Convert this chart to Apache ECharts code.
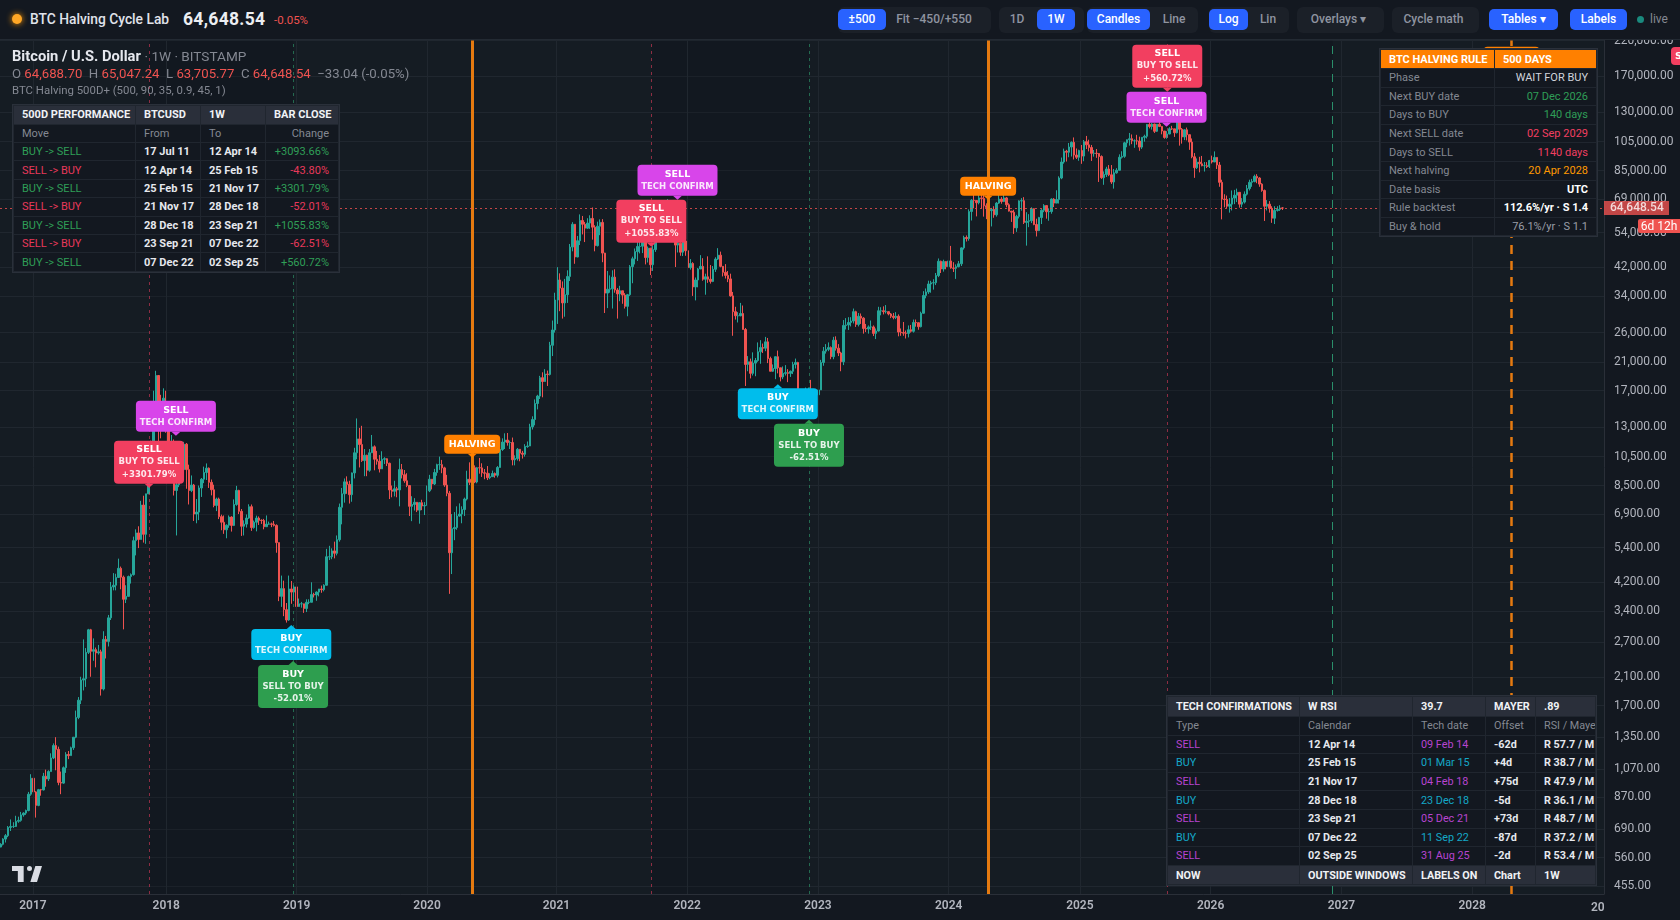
<!DOCTYPE html>
<html><head><meta charset="utf-8">
<script src="https://cdn.jsdelivr.net/npm/echarts@6/dist/echarts.min.js"></script>
<style>
html,body{margin:0;padding:0;background:#131820;overflow:hidden;width:1680px;height:920px;font-family:Roboto,"Open Sans",sans-serif}
#chart{position:absolute;left:0;top:0;width:1680px;height:920px}
.abs{position:absolute;white-space:nowrap}
#top{position:absolute;left:0;top:0;width:1680px;height:40px;background:#131820;border-bottom:1px solid #232a33;box-sizing:border-box}
.grp{position:absolute;top:7px;height:26px;background:#1b2028;border-radius:6px}
.btn{position:absolute;top:9px;height:21px;line-height:21px;text-align:center;font-size:12px;color:#8f94a0;font-weight:500}
.on{background:#2962ff;color:#fff;border-radius:5px}
table.t{position:absolute;border-collapse:collapse;table-layout:fixed;background:#131820;font-size:11px;color:#e6e8ee;font-weight:700;outline:1px solid #2a303a}
table.t td{padding:0 8px;overflow:hidden;white-space:nowrap;border:1px solid #20262f;box-sizing:border-box}
table.t tr.h td{background:#2a2f3a;color:#f0f2f5;font-weight:700}
.g{color:#848892;font-weight:400}.r{text-align:right}
</style></head><body>
<div id="chart"></div>
<div id="overlay"></div>
<script>
// ---- Weekly candles per calendar year: [close, high, low]
const weeks2016=[[617,622,606],[641,645,612],[657,665,625],[698,705,650],[703,740,680],[703,725,695],[730,760,700],[735,755,722],[765,782,728],[775,780,755],[790,795,765],[890,905,785],[1000,1030,880]];
const weeks2017=[[905,1150,810],[820,910,750],[920,925,815],[918,925,880],[1015,1040,915],[995,1065,940],[1050,1060,980],[1160,1200,1050],[1270,1290,1150],[1235,1350,1060],[970,1260,950],[965,1050,890],[1080,1090,960],[1190,1210,1040],[1180,1220,1150],[1250,1260,1180],[1350,1350,1230],[1560,1640,1340],[1770,1810,1540],[2050,2100,1720],[2070,2760,1900],[2510,2590,1950],[2960,2980,2480],[2530,2980,2100],[2560,2780,2360],[2500,2600,2250],[2520,2650,2470],[1920,2560,1830],[2760,2930,1900],[2720,2830,2400],[3230,3300,2620],[4050,4200,3180],[4100,4480,3950],[4340,4460,3950],[4640,4980,4330],[4350,4700,3980],[3700,4400,2970],[3780,4100,3600],[4370,4400,3780],[4430,4470,4150],[5680,5850,4400],[6010,6170,5100],[5730,6310,5380],[7370,7600,6000],[5950,7890,5600],[8000,8000,5550],[9300,9700,8000],[11200,11800,9000],[15000,17000,11000],[19000,19666,14900],[14000,19000,10800],[13800,16500,12000]];
const weeks2018=[[16100,17300,12700],[13600,17000,12500],[11500,14100,9000],[11700,12300,10100],[8200,11900,7900],[8550,9000,5900],[10300,11300,8400],[9550,11700,9300],[11500,11700,9400],[9550,11600,8300],[8200,9900,7400],[8530,9150,8100],[6900,8600,6560],[7000,7700,6450],[8350,8500,6600],[8900,8980,7820],[9350,9760,8650],[9650,9990,8850],[8700,9700,8350],[8240,8880,7910],[7350,8550,7250],[7700,7780,7050],[6770,7780,6650],[6500,6870,6130],[6150,6830,5970],[6360,6400,5780],[6750,6830,6240],[6350,6790,6070],[7400,7680,6320],[8200,8480,7330],[7040,8240,6900],[6310,7160,5880],[6410,6590,5900],[6700,6880,6250],[7280,7410,6660],[6250,7400,6100],[6500,6580,6200],[6700,6820,6080],[6590,6780,6370],[6580,6640,6420],[6290,6660,6170],[6410,6830,6300],[6420,6530,6380],[6400,6480,6270],[6350,6560,6300],[5600,6400,5200],[3780,5600,3650],[4000,4400,3500],[3430,4240,3270],[3180,3600,3120],[3990,4400,3160],[3900,4230,3580],[4050,4100,3650]];
const weeks2019=[[3510,4080,3470],[3580,3720,3500],[3580,3630,3480],[3460,3540,3350],[3620,3700,3370],[3620,3700,3570],[3830,4190,3680],[3820,3880,3750],[3900,3920,3660],[3990,3990,3780],[3970,4090,3880],[4100,4130,3920],[5050,5350,4090],[5050,5470,4930],[5270,5370,4960],[5180,5640,4990],[5720,5900,5100],[7250,7450,5640],[8000,8350,6400],[8730,8950,7500],[8570,9090,8000],[7950,8800,7450],[9320,9350,7550],[10800,11200,8950],[11950,13880,10300],[11470,12950,9700],[10200,13150,10100],[10600,11100,9100],[9500,10650,9100],[10800,11100,9400],[11280,12300,10900],[10300,11400,9500],[10150,10950,9900],[9600,10620,9350],[10300,10920,9800],[10340,10450,9950],[10000,10380,9800],[8230,10050,7700],[8150,8500,7800],[8300,8800,7850],[8230,8420,7800],[9550,10350,7300],[9200,9950,8950],[8800,9520,8670],[8500,9300,8400],[7300,8500,6800],[7400,7860,6550],[7520,7750,7080],[7100,7500,7000],[7500,7520,6430],[7320,7660,7100],[7350,7530,6850]];
const weeks2020=[[8180,8500,7720],[8900,9190,8100],[8600,8800,8260],[9350,9600,8530],[9900,9970,9130],[9900,10500,9530],[9670,10250,9300],[8530,9750,8420],[8030,9190,7860],[5200,8170,3850],[6200,6900,4450],[6250,7000,5700],[6800,7300,6150],[6900,7460,6770],[7130,7300,6450],[7700,7780,6800],[8900,9470,7620],[8700,10070,8530],[9680,9950,8200],[8720,9850,8650],[9680,9740,8640],[9670,10400,9270],[9330,10000,9050],[9300,9590,8900],[9000,9800,8850],[9070,9300,8900],[9280,9480,9050],[9160,9350,9000],[9700,9800,9020],[11060,12100,9900],[11680,12000,10950],[11850,12450,11100],[11640,12480,11380],[11640,11800,11100],[10260,12070,9850],[10350,10600,9850],[11080,11180,10200],[10770,11000,10150],[10680,10950,10350],[11300,11500,10500],[11350,11730,11200],[13050,13350,11400],[13770,14100,12800],[15480,15950,13200],[16350,16500,14830],[18700,18950,16000],[18180,19450,16200],[19200,19900,18200],[19150,19700,17600],[23700,24300,19000],[26500,28400,21900],[33000,34800,26000]];
const weeks2021=[[38200,41950,27700],[36000,40100,30400],[32300,37800,28800],[34300,38500,29200],[39200,41000,32300],[48600,49700,37900],[57400,58300,47100],[45200,57500,43000],[50900,52700,45100],[59000,61700,49300],[57400,61000,53300],[55800,58400,50400],[57900,60000,55500],[59900,61300,55500],[56200,64900,51300],[49100,57000,47100],[56600,58500,48800],[58200,59500,53000],[46500,59600,43500],[34700,46600,30000],[35700,40800,31100],[35800,39500,34800],[39000,41000,31000],[35500,41300,34800],[34500,36000,28800],[35300,36600,32700],[34200,35100,32100],[31500,34700,31000],[34300,34500,29300],[42100,42600,34000],[44600,45300,37300],[47000,48100,42800],[48800,50500,43900],[48900,50500,46400],[51800,52900,46500],[45000,52900,42800],[48200,48800,43400],[42700,47500,39600],[47700,49200,40800],[55000,56000,46900],[61500,62900,54100],[60900,67000,59800],[61300,63700,57700],[63300,64200,59500],[65500,69000,62300],[58600,66300,55700],[54800,59500,53500],[49300,59200,42000],[50000,51900,46700],[46800,50300,45600],[50800,51900,45500],[47300,52000,45600]];
const weeks2022=[[41800,47500,40500],[43100,44500,41200],[36300,43500,34000],[38200,38900,32900],[41400,41700,36200],[42200,45800,41700],[38400,44800,38000],[39100,40000,34300],[38400,45400,37400],[37800,42600,37200],[41300,42300,37600],[44500,45100,40500],[45800,48200,44200],[42200,47000,41900],[40400,41600,39200],[39500,42900,38600],[38500,40800,37600],[34000,40000,33800],[30300,35000,25400],[29400,31400,28600],[29400,30200,28000],[29900,32300,29300],[26600,31700,26600],[20600,26900,17600],[21000,21900,19600],[19300,21500,18600],[20800,22500,19000],[21200,21600,18900],[22600,24200,21000],[23300,24600,20700],[23200,24000,22400],[24300,25200,22700],[21500,25000,20800],[19600,21800,19600],[20000,20600,19500],[21800,21800,18500],[20100,22800,19300],[18800,19700,18200],[19300,20300,18500],[19400,20500,19000],[19300,19900,18100],[19600,19700,18800],[20600,21000,19200],[20900,21500,20000],[16300,21000,15700],[16300,17200,15500],[16400,16800,15500],[17100,17400,16000],[17100,17400,16700],[16800,18400,16500],[16800,17000,16400],[16500,16800,16300]];
const weeks2023=[[17100,17400,16500],[20900,21300,17200],[22700,23400,20400],[23000,23900,22300],[23300,24200,22700],[21800,23500,21400],[24600,25200,21400],[23200,25300,22800],[22400,23900,21900],[21000,22600,19600],[27400,28500,20500],[27500,28900,26600],[28000,29100,26500],[28300,29100,27200],[30300,31000,27800],[27600,30500,27100],[29300,30000,27200],[28900,29900,27700],[26800,29100,25800],[26700,27700,26100],[27100,27400,25800],[27100,28400,26500],[25850,27400,25350],[26300,26800,24800],[30500,31400,26200],[30500,31300,29500],[30300,31500,29700],[30300,31800,29900],[29800,30400,29500],[29300,30000,28900],[29050,30000,28650],[29300,30200,28700],[26100,29700,25300],[26000,26800,25400],[25900,28100,25400],[25850,26400,24900],[26550,27400,25100],[26250,27500,26000],[28000,28600,26000],[27950,28600,27150],[27150,28000,26550],[29950,30300,27000],[34100,35200,29900],[35000,35900,33400],[37100,38000,34500],[37400,37970,34800],[37450,38400,35600],[39450,40200,36800],[43800,44700,39000],[41400,44000,40200],[43700,44300,40600],[42100,43800,41300]];
const weeks2024=[[43900,45900,40700],[41700,49000,41500],[41600,43500,40500],[42100,42800,38500],[43000,43900,41900],[48300,48500,42300],[52100,52800,47700],[51700,52900,50600],[63000,64000,50900],[68400,69000,59000],[68300,73700,64500],[67200,68100,60800],[69600,71700,66400],[69300,71300,64500],[65700,72800,60700],[64900,66900,59600],[63400,67200,62400],[64000,64700,56500],[61500,65500,60200],[67000,67500,60700],[69000,71900,66600],[67800,70000,66700],[69600,72000,67500],[66200,70100,65000],[63200,66900,63000],[62700,62800,58400],[55900,63800,53500],[60800,61500,54300],[68100,68400,59900],[68200,69500,63400],[58200,70000,57500],[58700,62700,49100],[58900,61800,56200],[64300,65000,57900],[57300,64500,57000],[54800,59800,52500],[60300,60600,54600],[63600,64100,57500],[65800,66500,62700],[62900,65500,59800],[63000,64500,58900],[69000,69400,62000],[67000,69500,65100],[68800,73600,67500],[80500,81500,66800],[90500,93500,79800],[97900,99800,89400],[97200,98900,90800],[101000,104000,93700],[104500,105200,94200],[95200,108300,92200],[93700,99900,92500],[98400,99000,91300]];
const weeks2025=[[94500,102500,89300],[105000,106300,91000],[102600,109500,99500],[100600,106500,97800],[96400,102500,91200],[96500,98800,94100],[96300,99500,93300],[94200,96500,78200],[80700,95000,80000],[82600,84500,76600],[86000,87400,81100],[82400,88500,81600],[78200,88500,77100],[83600,86000,74500],[85200,86500,83100],[93700,95700,85100],[94300,97900,92800],[104100,104900,93300],[106500,106700,100800],[107300,111900,102000],[105700,110700,103100],[105700,106800,100400],[105500,110400,102700],[100900,108900,98200],[108400,108500,99600],[109200,110500,105000],[119100,119500,107500],[117300,123100,115700],[119400,120200,114700],[113300,119800,111900],[119300,119300,112700],[117400,124500,116800],[113500,117600,110800],[108300,113500,107300],[111100,113400,107300],[115400,116700,110800],[115300,117900,114400],[112100,113300,108700],[123500,125700,111500],[115000,126200,102000],[108700,116000,103500],[114500,114900,106200],[110500,116400,106000],[104700,110700,98900],[94000,107500,93000],[86800,96600,80600],[90400,92900,86000],[89300,94000,83900],[88100,94600,87700],[88100,90500,84400],[87500,90400,86600],[91500,91900,86600]];
const weeks2026=[[90500,94800,89500],[93600,97800,91000],[88500,93200,86000],[78000,90500,75500],[69000,79500,59500],[68800,71500,65000],[65500,70800,64500],[66500,69500,62500],[69500,73500,63500],[71000,73800,66500],[72500,74500,67500],[66500,72500,64800],[67500,69500,65000],[71500,73000,66800],[74500,76500,70800],[78000,79500,73500],[78500,80000,75500],[81500,82500,78000],[80500,82800,77500],[77000,81000,75500],[73500,77500,72800],[65500,74000,58800],[66500,68500,63500],[64500,68000,62500],[60000,65500,58000],[63500,65500,57500],[64000,65500,63000],[64681.58,66000,63300],[64648.54,65047.24,63705.77]];
const yearBlocks=[['2016-10-03',weeks2016],['2017-01-02',weeks2017],['2018-01-01',weeks2018],['2019-01-07',weeks2019],['2020-01-06',weeks2020],['2021-01-04',weeks2021],['2022-01-03',weeks2022],['2023-01-02',weeks2023],['2024-01-01',weeks2024],['2025-01-06',weeks2025],['2026-01-05',weeks2026]];

const priceTicks=[220000,170000,130000,105000,85000,69000,54000,42000,34000,26000,21000,17000,13000,10500,8500,6900,5400,4200,3400,2700,2100,1700,1350,1070,870,690,560,455];
const yearTicks=['2017-01-01','2018-01-08','2019-01-07','2020-01-06','2021-01-01','2022-01-01','2023-01-01','2024-01-01','2025-01-01','2026-01-01','2027-01-01','2028-01-01'];
const yearNames=['2017','2018','2019','2020','2021','2022','2023','2024','2025','2026','2027','2028'];
const lastClose=64648.54;
const halvings=['2020-05-11','2024-04-20'];
const nextHalving='2028-04-20';
const sellDates=['2017-11-21','2021-09-23','2025-09-02'];
const buyDates=['2018-12-28','2022-12-07'];
const nextBuy='2026-12-07';
const darkWindows=[['2017-11-21','2018-12-28'],['2021-09-23','2022-12-07'],['2025-09-02','2026-12-07']];

const labelDates=['2017-11-21','2018-02-04','2018-12-23','2018-12-28','2020-05-11','2021-12-05','2021-09-23','2022-09-11','2022-12-07','2024-04-20','2025-09-02','2025-08-31','2028-04-20'];
const labelPrices=[8364,12228,3067,2358,10407,68650,48690,17822,13737,68650,151200,117080,177600];
const labelKinds=['sell','techS','techB','buy','halv','techS','sell','techB','buy','halv','sell','techS','halv'];
const labelTitles=['SELL','SELL','BUY','BUY','HALVING','SELL','SELL','BUY','BUY','HALVING','SELL','SELL','HALVING'];
const labelSubs=['BUY TO SELL','TECH CONFIRM','TECH CONFIRM','SELL TO BUY','','TECH CONFIRM','BUY TO SELL','TECH CONFIRM','SELL TO BUY','','BUY TO SELL','TECH CONFIRM',''];
const labelMoves=['+3301.79%','','','-52.01%','','','+1055.83%','','-62.51%','','+560.72%','',''];

const perfHead=['500D PERFORMANCE','BTCUSD','1W','BAR CLOSE'];
const perfCols=['Move','From','To','Change'];
const perfMoves=['BUY -> SELL','SELL -> BUY','BUY -> SELL','SELL -> BUY','BUY -> SELL','SELL -> BUY','BUY -> SELL'];
const perfFrom=['17 Jul 11','12 Apr 14','25 Feb 15','21 Nov 17','28 Dec 18','23 Sep 21','07 Dec 22'];
const perfTo=['12 Apr 14','25 Feb 15','21 Nov 17','28 Dec 18','23 Sep 21','07 Dec 22','02 Sep 25'];
const perfChange=['+3093.66%','-43.80%','+3301.79%','-52.01%','+1055.83%','-62.51%','+560.72%'];

const ruleNames=['Phase','Next BUY date','Days to BUY','Next SELL date','Days to SELL','Next halving','Date basis','Rule backtest','Buy &amp; hold'];
const ruleValues=['WAIT FOR BUY','07 Dec 2026','140 days','02 Sep 2029','1140 days','20 Apr 2028','UTC','112.6%/yr · S 1.4','76.1%/yr · S 1.1'];
const ruleColors=['#d1d4dc','#2f9e57','#2f9e57','#f23f60','#f23f60','#ff9800','#fff','#fff','#9a9ea8'];

const techHead=['TECH CONFIRMATIONS','W RSI','39.7','MAYER','.89'];
const techCols=['Type','Calendar','Tech date','Offset','RSI / Maye'];
const techTypes=['SELL','BUY','SELL','BUY','SELL','BUY','SELL'];
const techCalendar=['12 Apr 14','25 Feb 15','21 Nov 17','28 Dec 18','23 Sep 21','07 Dec 22','02 Sep 25'];
const techDates=['09 Feb 14','01 Mar 15','04 Feb 18','23 Dec 18','05 Dec 21','11 Sep 22','31 Aug 25'];
const techOffsets=['-62d','+4d','+75d','-5d','+73d','-87d','-2d'];
const techRsi=['R 57.7 / M','R 38.7 / M','R 47.9 / M','R 36.1 / M','R 48.7 / M','R 37.2 / M','R 53.4 / M'];
const techFoot=['NOW','OUTSIDE WINDOWS','LABELS ON','Chart','1W'];

// ---- build candles
const DAY=86400000, candles=[];
let prev=null;
yearBlocks.forEach(([start,rows])=>{
  const t0=new Date(start+'T00:00:00Z').getTime();
  rows.forEach((r,i)=>{
    const open=prev===null?r[0]*0.98:prev;
    candles.push([t0+i*7*DAY,open,r[0],Math.min(r[2],open,r[0]),Math.max(r[1],open,r[0])]);
    prev=r[0];
  });
});
const ts=s=>new Date(s+'T00:00:00Z').getTime();
const fmtPrice=v=>Number(v).toLocaleString('en-US',{minimumFractionDigits:2,maximumFractionDigits:2});

const labelStyle={
  sell:{w:70,h:43,fill:'#f23f60',dir:-1},
  buy:{w:70,h:43,fill:'#2e9e4f',dir:1},
  techS:{w:80,h:31,fill:'#d845ea',dir:-1},
  techB:{w:80,h:31,fill:'#00bdec',dir:1},
  halv:{w:56,h:19,fill:'#ff8000',dir:-1}
};
const FONT='"DejaVu Sans",sans-serif';
function renderLabel(params,api){
  const i=api.value(2), p=api.coord([api.value(0),api.value(1)]), s=labelStyle[labelKinds[i]];
  const x=p[0], tip=p[1], gap=4;
  const boxY=s.dir<0?tip-gap-s.h:tip+gap;
  const edge=s.dir<0?tip-gap:tip+gap;
  const kids=[
    {type:'rect',shape:{x:x-s.w/2,y:boxY,width:s.w,height:s.h,r:4},style:{fill:s.fill}},
    {type:'polygon',shape:{points:[[x-4.5,edge],[x+4.5,edge],[x,tip]]},style:{fill:s.fill}}
  ];
  const lines=[labelTitles[i],labelSubs[i],labelMoves[i]].filter(Boolean);
  const lh=12.3, y0=boxY+s.h/2-(lines.length-1)*lh/2;
  lines.forEach((t,k)=>{
    kids.push({type:'text',style:{text:t,x:x,y:y0+k*lh,align:'center',verticalAlign:'middle',
      font:(k===0?'bold 9.5px ':'bold 8.5px ')+FONT,fill:k===0?'#ffffff':'rgba(255,255,255,.88)'}});
  });
  return {type:'group',children:kids};
}

const vLine=(d,color,width,type)=>({xAxis:ts(d),lineStyle:{color,width,type},label:{show:false}});
const chart=echarts.init(document.getElementById('chart'),null,{renderer:'canvas'});
chart.setOption({
  animation:false,
  backgroundColor:'#131820',
  grid:{left:0,right:76,top:40.5,bottom:26,show:true,backgroundColor:'#151c23',borderWidth:0},
  xAxis:{type:'time',min:ts('2016-10-01'),max:ts('2029-01-03'),
    axisLine:{show:true,lineStyle:{color:'#2a2f38'}},axisTick:{show:false},
    splitLine:{show:false},axisLabel:{show:false}},
  yAxis:{type:'log',logBase:10,min:429,max:220000,position:'right',
    axisLine:{show:true,lineStyle:{color:'#2a2f38'}},axisTick:{show:false,customValues:priceTicks},
    splitLine:{show:true,lineStyle:{color:'#20272f',width:1}},
    axisLabel:{customValues:priceTicks,color:'#b2b5be',fontSize:12,margin:10,fontFamily:'Roboto',formatter:fmtPrice}},
  series:[
    {type:'line',data:[],z:1,silent:true,
      markArea:{silent:true,itemStyle:{color:'rgba(8,8,18,0.2)'},data:darkWindows.map(w=>[{xAxis:ts(w[0])},{xAxis:ts(w[1])}])},
      markLine:{symbol:'none',silent:true,animation:false,data:yearTicks.map((d,i)=>({xAxis:ts(d),lineStyle:{color:'#20272f',width:1,type:'solid'},
        label:{show:true,position:'start',distance:6,formatter:yearNames[i],color:'#b2b5be',fontFamily:'Roboto',fontSize:12,fontWeight:600}}))}},
    {type:'candlestick',z:3,data:candles,barWidth:2,progressive:0,
      itemStyle:{color:'#26a69a',color0:'#ef5350',borderColor:'#26a69a',borderColor0:'#ef5350',borderWidth:1},
      markLine:{symbol:'none',silent:true,z:4,animation:false,data:[
        ...halvings.map(d=>vLine(d,'#e57a10',3,'solid')),
        vLine(nextHalving,'#e57a10',2.5,[9,7]),
        ...sellDates.map(d=>vLine(d,'rgba(242,63,96,.55)',1,[3,4])),
        ...buyDates.map(d=>vLine(d,'rgba(46,158,110,.6)',1,[3,4])),
        vLine(nextBuy,'#2a8f6a',1,[8,6]),
        {yAxis:lastClose,lineStyle:{color:'#ef5350',width:1,type:[2,3],opacity:.8},
         label:{show:true,position:'end',distance:0,formatter:fmtPrice(lastClose),color:'#fff',backgroundColor:'#ef5350',
           fontFamily:'Roboto',fontSize:12,fontWeight:500,padding:[1,5,1,6],width:54,align:'left'}}
      ]}},
    {type:'custom',z:6,clip:false,silent:true,renderItem:renderLabel,
      data:labelDates.map((d,i)=>[ts(d),labelPrices[i],i]),encode:{x:0,y:1}}
  ]
});

// ---- text overlays
const ov=document.getElementById('overlay');
const el=(html)=>{const d=document.createElement('div');d.innerHTML=html;while(d.firstChild)ov.appendChild(d.firstChild);};
const groups=[[838,153],[999,85],[1087,111],[1209,80],[1297,87],[1392,87]];
const btns=[['±500',838,48,1],['Fit −450/+550',888,92,0],['1D',1002,30,0],['1W',1037,38,1],['Candles',1087,63,1],['Line',1155,38,0],['Log',1209,39,1],['Lin',1253,30,0],['Overlays ▾',1295,87,0],['Cycle math',1390,87,0],['Tables ▾',1489,69,1],['Labels',1570,57,1]];
let topHtml='<div id="top"></div>'
 +'<div class="abs" style="left:12px;top:14px;width:10px;height:10px;border-radius:50%;background:#ffa726;box-shadow:0 0 6px #ff9800"></div>'
 +'<div class="abs" style="left:30px;top:10px;font-size:13.8px;font-weight:500;color:#e0e3eb;line-height:19px">BTC Halving Cycle Lab</div>'
 +'<div class="abs" style="left:183px;top:8px;font-size:17.5px;font-weight:700;color:#eceef2;line-height:23px;letter-spacing:.3px">64,648.54</div>'
 +'<div class="abs" style="left:274px;top:12px;font-size:11.5px;color:#ef5350;line-height:17px">-0.05%</div>';
groups.forEach(g=>{topHtml+=`<div class="grp" style="left:${g[0]}px;width:${g[1]}px"></div>`;});
btns.forEach(b=>{topHtml+=`<div class="btn ${b[3]?'on':''}" style="left:${b[1]}px;width:${b[2]}px">${b[0]}</div>`;});
topHtml+='<div class="abs" style="left:1637px;top:16px;width:7px;height:7px;border-radius:50%;background:#1a8a7e"></div>'
 +'<div class="abs" style="left:1650px;top:11px;font-size:12px;color:#848892;line-height:17px">live</div>';
el(topHtml);

el('<div class="abs" style="left:12px;top:47px;line-height:18px;font-size:14.7px;font-weight:700;color:#e6e8ee">Bitcoin / U.S. Dollar <span style="font-weight:400;color:#848892;font-size:13.6px">· 1W · BITSTAMP</span></div>'
 +'<div class="abs" style="left:12px;top:66px;line-height:16px;font-size:13.2px;color:#848892">O <span style="color:#ef5350">64,688.70</span>&nbsp; H <span style="color:#ef5350">65,047.24</span>&nbsp; L <span style="color:#ef5350">63,705.77</span>&nbsp; C <span style="color:#ef5350">64,648.54</span>&nbsp; −33.04 (-0.05%)</div>'
 +'<div class="abs" style="left:12px;top:83px;line-height:15px;font-size:11.4px;color:#848892">BTC Halving 500D+ (500, 90, 35, 0.9, 45, 1)</div>');

const GREEN='#2f9e57',PINK='#e8395b';
const row=(cells,h,cls,styles)=>`<tr class="${cls||''}" style="height:${h}px">`+cells.map((c,i)=>`<td style="${styles&&styles[i]||''}">${c.replace(/->/g,'-&gt;')}</td>`).join('')+'</tr>';
let html='<table class="t" style="left:13px;top:104.5px;width:325px"><colgroup><col style="width:122px"><col style="width:65px"><col style="width:65px"><col style="width:73px"></colgroup>';
html+=row(perfHead,19,'h',['','','','text-align:right;padding-right:9px']);
html+=row(perfCols,18.5,'g',['color:#848892;font-weight:400','color:#848892;font-weight:400','color:#848892;font-weight:400','color:#848892;font-weight:400;text-align:right;padding-right:9px']);
perfMoves.forEach((m,i)=>{const c=m[0]==='B'?GREEN:PINK;
  html+=row([m,perfFrom[i],perfTo[i],perfChange[i]],18.4,'',[`color:${c};font-weight:400`,'','',`color:${c};font-weight:400;text-align:right;padding-right:9px`]);});
html+='</table>';
el(html);

html='<table class="t" style="left:1380px;top:49px;width:216px"><colgroup><col style="width:114px"><col style="width:102px"></colgroup>';
html+=row(['BTC HALVING RULE','500 DAYS'],19,'h',['background:#ff8000;color:#fff','background:#ff8000;color:#fff']);
ruleNames.forEach((n,i)=>{html+=row([n,ruleValues[i]],18.6,'',['color:#848892;font-weight:400',`color:${ruleColors[i]};text-align:right;font-weight:${i>=6&&i<8?700:400}`]);});
html+='</table>';
el(html);

const MAG='#b844d0',CY='#14a8c8';
html='<table class="t" style="left:1167px;top:696px;width:428px;font-size:10.8px"><colgroup><col style="width:132px"><col style="width:113px"><col style="width:73px"><col style="width:50px"><col style="width:60px"></colgroup>';
html+=row(techHead,20,'h');
html+=row(techCols,18.6,'',Array(5).fill('color:#848892;font-weight:400'));
techTypes.forEach((t,i)=>{const c=t==='SELL'?MAG:CY;
  html+=row([t,techCalendar[i],techDates[i],techOffsets[i],techRsi[i]],18.6,'',[`color:${c};font-weight:400`,'',`color:${c};font-weight:400`,'','padding-right:0']);});
html+=row(techFoot,19.5,'h');
html+='</table>';
el(html);

el('<div class="abs" style="left:1638px;top:219px;width:42px;height:14px;line-height:14px;background:#ef5350;color:#fff;font-size:12px;text-align:center;border-radius:2px 0 0 2px">6d 12h</div>'
 +'<div class="abs" style="left:1671px;top:47px;width:9px;height:18px;overflow:hidden;background:#f23f60;border-radius:4px 0 0 4px;color:#fff;font:bold 9.5px/18px \'DejaVu Sans\';padding-left:4px;box-sizing:border-box">SELL</div>'
 +'<div class="abs" style="left:1591px;top:899px;font:600 12px/17px Roboto;color:#b2b5be;width:13px;overflow:hidden">20</div>'
 +'<svg class="abs" style="left:12px;top:866px" width="30" height="16" viewBox="0 0 36 19"><path fill="#d9dce3" d="M14 0H0v6h7v13h7V0zm16 19h-8L28 0h8l-6 19zM21 6a3 3 0 1 0 0-6 3 3 0 0 0 0 6z"/></svg>');
</script>
</body></html>
